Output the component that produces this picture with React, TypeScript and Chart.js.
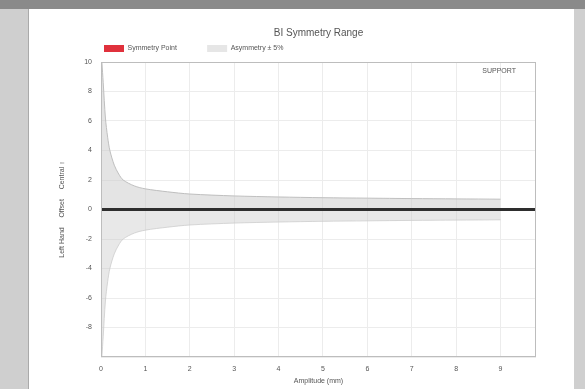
import React, { useEffect, useRef } from "react";
import { Chart, registerables } from "chart.js";

Chart.register(...registerables);

const chartTitle = "BI Symmetry Range";
const symmetryLabel = "Symmetry Point";
const asymmetryLabel = "Asymmetry ± 5%";
const xTitle = "Amplitude (mm)";
const yTitle = "Left Hand     Offset     Central ↑";
const cornerNote = "SUPPORT";

// Symmetry point line (offset 0 across amplitude)
const symX = [0, 1, 2, 3, 4, 5, 6, 7, 8, 9, 9.8];
const symY = [0, 0, 0, 0, 0, 0, 0, 0, 0, 0, 0];

// Asymmetry ±5% band
const bandX = [0.02, 0.05, 0.1, 0.15, 0.2, 0.3, 0.4, 0.5, 0.75, 1, 1.5, 2, 3, 4, 5, 6, 7, 8, 9];
const bandUpper = [10, 8.6, 6.2, 4.9, 4.0, 3.0, 2.4, 2.0, 1.6, 1.4, 1.2, 1.05, 0.92, 0.85, 0.8, 0.77, 0.74, 0.72, 0.7];
const bandLower = [-10, -8.6, -6.2, -4.9, -4.0, -3.0, -2.4, -2.0, -1.6, -1.4, -1.2, -1.05, -0.92, -0.85, -0.8, -0.77, -0.74, -0.72, -0.7];

const xMin = 0;
const xMax = 9.8;
const yMin = -10;
const yMax = 10;

const FONT = "'Liberation Sans', Arial, sans-serif";

const framePlugin = {
  id: "frame",
  afterDraw(chart: any) {
    const { ctx, chartArea } = chart;
    ctx.save();
    ctx.strokeStyle = "#bdbdbd";
    ctx.lineWidth = 1;
    ctx.strokeRect(chartArea.left + 0.5, chartArea.top + 0.5, chartArea.width - 1, chartArea.height - 1);
    ctx.fillStyle = "#555";
    ctx.font = `7px ${FONT}`;
    ctx.textAlign = "right";
    ctx.textBaseline = "middle";
    ctx.fillText(cornerNote, chartArea.right - 20, chartArea.top + 9);
    ctx.restore();
  },
};

export default function App() {
  const ref = useRef<HTMLCanvasElement>(null);
  useEffect(() => {
    const canvas = ref.current!;
    const chart = new Chart(canvas, {
      type: "line",
      data: {
        datasets: [
          {
            label: symmetryLabel,
            data: symX.map((x, i) => ({ x, y: symY[i] })),
            borderColor: "#2e2e2e",
            backgroundColor: "#e0313c",
            borderWidth: 3,
            pointRadius: 0,
            fill: false,
            order: 0,
          },
          {
            label: asymmetryLabel,
            data: bandX.map((x, i) => ({ x, y: bandUpper[i] })),
            borderColor: "rgba(185,185,185,0.9)",
            backgroundColor: "rgba(205,205,205,0.55)",
            borderWidth: 1,
            pointRadius: 0,
            fill: "origin",
            tension: 0.3,
            order: 1,
          },
          {
            label: "lower",
            data: bandX.map((x, i) => ({ x, y: bandLower[i] })),
            borderColor: "rgba(200,200,200,0.7)",
            backgroundColor: "rgba(205,205,205,0.45)",
            borderWidth: 1,
            pointRadius: 0,
            fill: "origin",
            tension: 0.3,
            order: 2,
          },
        ],
      },
      options: {
        animation: false,
        responsive: false,
        maintainAspectRatio: false,
        layout: { padding: { left: 28, right: 37, top: 0, bottom: 0 } },
        plugins: {
          tooltip: { enabled: false },
          title: {
            display: true,
            text: chartTitle,
            fullSize: false,
            color: "#555",
            font: { family: FONT, size: 10, weight: "normal" },
            padding: { top: 15, bottom: 3 },
          },
          legend: {
            display: true,
            fullSize: false,
            align: "start",
            labels: {
              font: { family: FONT, size: 7 },
              color: "#555",
              boxWidth: 20,
              boxHeight: 7,
              padding: 3,
              filter: (item: any) => item.text.trim() !== "lower",
              generateLabels: (c: any) => {
                const items = Chart.defaults.plugins.legend.labels.generateLabels(c);
                return items.map((it: any) => {
                  if (it.datasetIndex === 0) {
                    it.strokeStyle = "#e0313c";
                    it.lineWidth = 0;
                    it.text = it.text + "              ";
                  } else {
                    it.fillStyle = "#e6e6e6";
                    it.strokeStyle = "#e6e6e6";
                    it.lineWidth = 0;
                  }
                  return it;
                });
              },
            },
          },
        },
        scales: {
          x: {
            type: "linear",
            min: xMin,
            max: xMax,
            afterFit: (s: any) => {
              s.height = 32;
            },
            afterBuildTicks: (s: any) => {
              s.ticks = s.ticks.filter((t: any) => Number.isInteger(t.value));
            },
            ticks: { stepSize: 1, color: "#555", font: { family: FONT, size: 7 }, padding: 8 },
            grid: { color: "#ececec", drawTicks: false },
            border: { display: false },
            title: { display: true, text: xTitle, color: "#555", font: { family: FONT, size: 7 }, padding: { top: 1 } },
          },
          y: {
            type: "linear",
            min: yMin,
            max: yMax,
            afterFit: (s: any) => {
              s.width = 43;
            },
            ticks: {
              stepSize: 2,
              color: "#555",
              font: { family: FONT, size: 7 },
              padding: 9,
              callback: (v: any) => (v === yMin ? "" : String(v)),
            },
            grid: { color: "#ececec", drawTicks: false },
            border: { display: false },
            title: { display: true, text: yTitle, color: "#555", font: { family: FONT, size: 7 }, padding: 0 },
          },
        },
      },
      plugins: [framePlugin],
    });
    return () => chart.destroy();
  }, []);

  return (
    <div style={{ position: "fixed", inset: 0, background: "#cfcfcf", overflow: "hidden" }}>
      <div style={{ position: "absolute", left: 0, top: 0, width: 585, height: 9, background: "#8a8a8a" }} />
      <div
        style={{
          position: "absolute",
          left: 28,
          top: 9,
          width: 545,
          height: 380,
          background: "#fff",
          borderLeft: "1px solid #aaa",
        }}
      />
      <canvas
        ref={ref}
        width={543}
        height={377}
        style={{ position: "absolute", left: 30, top: 12, width: 543, height: 377 }}
      />
    </div>
  );
}
